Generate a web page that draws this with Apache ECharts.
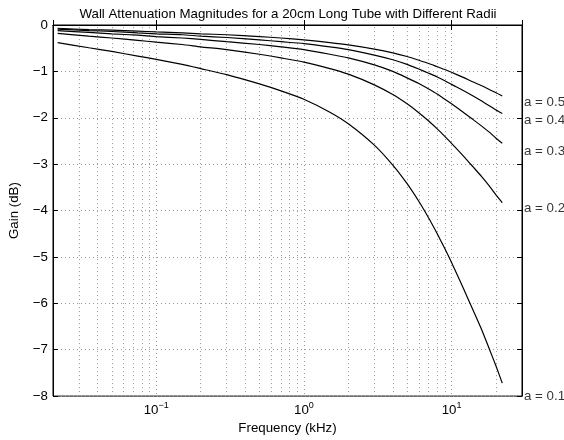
<!DOCTYPE html>
<html>
<head>
<meta charset="utf-8">
<script src="https://cdn.jsdelivr.net/npm/echarts@6/dist/echarts.min.js"></script>
<style>
  html, body { margin: 0; padding: 0; background: #fff; }
  #chart { width: 564px; height: 440px; }
</style>
</head>
<body>
<div id="chart"></div>
<script>
// frequencies in kHz
const freqs = [0.0215, 0.035, 0.05, 0.075, 0.1, 0.15, 0.2, 0.3, 0.5, 0.7, 1, 1.5, 2, 3, 4, 5, 6, 7, 8, 9, 10, 12, 14, 16, 18, 20, 22.05]

// gain in dB for each tube radius
const gainA01 = [-0.38, -0.49, -0.57, -0.67, -0.74, -0.85, -0.94, -1.07, -1.27, -1.42, -1.60, -1.88, -2.13, -2.59, -3.02, -3.42, -3.80, -4.16, -4.50, -4.82, -5.12, -5.67, -6.15, -6.57, -6.98, -7.35, -7.72]
const gainA02 = [-0.18, -0.24, -0.28, -0.33, -0.37, -0.42, -0.47, -0.53, -0.63, -0.71, -0.80, -0.94, -1.06, -1.29, -1.50, -1.70, -1.89, -2.07, -2.24, -2.40, -2.55, -2.82, -3.06, -3.27, -3.47, -3.66, -3.83]
const gainA03 = [-0.12, -0.16, -0.19, -0.22, -0.25, -0.28, -0.31, -0.36, -0.42, -0.47, -0.53, -0.63, -0.71, -0.86, -1.00, -1.14, -1.26, -1.38, -1.49, -1.60, -1.70, -1.88, -2.04, -2.18, -2.31, -2.44, -2.55]
const gainA04 = [-0.09, -0.12, -0.14, -0.17, -0.19, -0.21, -0.24, -0.27, -0.32, -0.36, -0.40, -0.47, -0.53, -0.65, -0.75, -0.85, -0.95, -1.04, -1.12, -1.20, -1.28, -1.41, -1.53, -1.64, -1.74, -1.83, -1.91]
const gainA05 = [-0.07, -0.10, -0.11, -0.13, -0.15, -0.17, -0.19, -0.21, -0.25, -0.28, -0.32, -0.38, -0.43, -0.52, -0.60, -0.68, -0.76, -0.83, -0.90, -0.96, -1.02, -1.13, -1.23, -1.31, -1.39, -1.46, -1.53]

// curve labels on the right side and the gain where each one sits
const radiusLabels = ['a = 0.5', 'a = 0.4', 'a = 0.3', 'a = 0.2', 'a = 0.1']
const labelGains = [-1.67, -2.05, -2.73, -3.95, -8.0]

// axis range and minor log grid
const xMin = 0.02
const xMax = 30
const minorGrid = [0.03, 0.04, 0.05, 0.06, 0.07, 0.08, 0.09,
  0.2, 0.3, 0.4, 0.5, 0.6, 0.7, 0.8, 0.9,
  2, 3, 4, 5, 6, 7, 8, 9, 20]
const majorTicks = [0.1, 1, 10]

const FONT = 'Liberation Sans, Arial, Helvetica, sans-serif'
const FS = 13.3
const dotted = { type: [1, 3], color: '#999', width: 1 }

function pairs(ys) {
  return freqs.map((f, i) => [f, ys[i]])
}

function curve(ys, extra) {
  return Object.assign({
    type: 'line',
    data: pairs(ys),
    showSymbol: false,
    smooth: 0.2,
    lineStyle: { color: '#000', width: 1.2 },
    silent: true,
    z: 5
  }, extra || {})
}

function expLabel(v) {
  const i = majorTicks.findIndex(t => Math.abs(t - v) / t < 1e-6)
  if (i < 0) return ''
  const e = Math.round(Math.log10(v))
  return '{b|10}{s|' + String(e).replace('-', '\u2212') + '}'
}

const chart = echarts.init(document.getElementById('chart'))
chart.setOption({
  animation: false,
  backgroundColor: '#fff',
  textStyle: { fontFamily: FONT },
  title: {
    text: 'Wall Attenuation Magnitudes for a 20cm Long Tube with Different Radii',
    left: 283,
    textAlign: 'center',
    top: 3,
    textStyle: { fontSize: FS, fontWeight: 'normal', color: '#000', fontFamily: FONT }
  },
  grid: {
    left: 45,
    right: 42,
    top: 25,
    bottom: 39,
    show: true,
    borderColor: '#000',
    borderWidth: 1
  },
  xAxis: [{
    type: 'log',
    logBase: 10,
    min: xMin,
    max: xMax,
    name: 'Frequency (kHz)',
    nameLocation: 'middle',
    nameGap: 25,
    nameTextStyle: { fontSize: FS, color: '#000', fontFamily: FONT },
    axisLine: { lineStyle: { color: '#000' } },
    axisTick: { inside: true, length: 5, lineStyle: { color: '#000' } },
    axisLabel: {
      color: '#000',
      margin: 5,
      formatter: expLabel,
      rich: {
        b: { fontSize: FS, color: '#000', fontFamily: FONT },
        s: { fontSize: 9, color: '#000', fontFamily: FONT, padding: [0, 0, 10, 0] }
      }
    },
    splitLine: { show: true, lineStyle: dotted }
  }, {
    type: 'log',
    logBase: 10,
    min: xMin,
    max: xMax,
    position: 'top',
    axisLine: { lineStyle: { color: '#000' } },
    axisTick: { inside: true, length: 5, lineStyle: { color: '#000' } },
    axisLabel: { show: false },
    splitLine: { show: false }
  }],
  yAxis: [{
    type: 'value',
    min: -8,
    max: 0,
    interval: 1,
    name: 'Gain (dB)',
    nameLocation: 'middle',
    nameGap: 32,
    nameTextStyle: { fontSize: FS, color: '#000', fontFamily: FONT },
    axisLine: { show: true, lineStyle: { color: '#000' } },
    axisTick: { show: true, inside: true, length: 5, lineStyle: { color: '#000' } },
    axisLabel: {
      color: '#000',
      fontSize: FS,
      margin: 5,
      formatter: v => String(v).replace('-', '\u2212')
    },
    splitLine: { show: true, lineStyle: dotted }
  }, {
    type: 'value',
    min: -8,
    max: 0,
    interval: 1,
    position: 'right',
    axisLine: { show: true, lineStyle: { color: '#000' } },
    axisTick: { show: true, inside: true, length: 5, lineStyle: { color: '#000' } },
    axisLabel: { show: false },
    splitLine: { show: false }
  }],
  series: [
    curve(gainA05, {
      markLine: {
        silent: true,
        symbol: 'none',
        label: { show: false },
        lineStyle: dotted,
        data: minorGrid.map(v => ({ xAxis: v }))
      }
    }),
    curve(gainA04),
    curve(gainA03),
    curve(gainA02),
    curve(gainA01),
    {
      type: 'scatter',
      symbolSize: 0,
      silent: true,
      clip: false,
      data: labelGains.map((g, i) => ({ value: [xMax, g], name: radiusLabels[i] })),
      label: {
        show: true,
        position: 'right',
        distance: 2,
        formatter: p => p.name,
        color: '#000',
        fontSize: FS,
        fontFamily: FONT
      }
    }
  ]
})
</script>
</body>
</html>
